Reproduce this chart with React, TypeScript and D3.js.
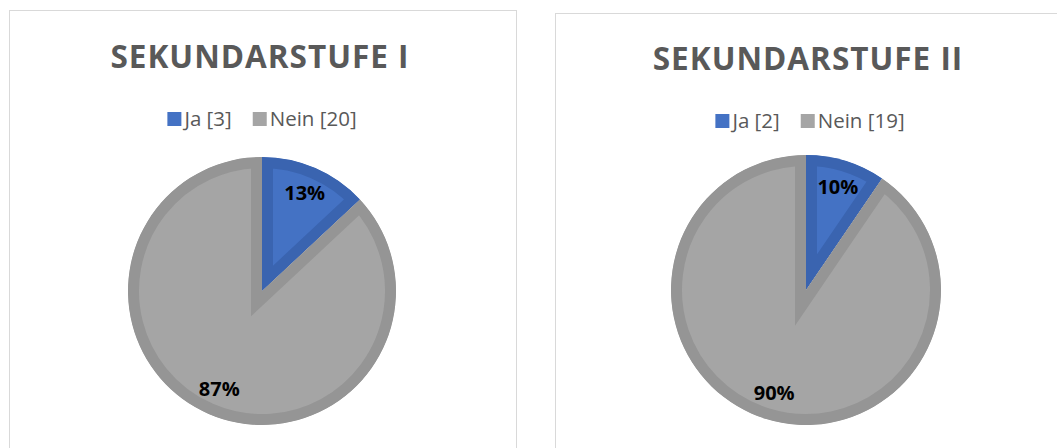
import React, { useEffect, useRef } from "react";
import * as d3 from "d3";

const chartTitles = ["SEKUNDARSTUFE I", "SEKUNDARSTUFE II"];
const categories = ["Ja", "Nein"];
const valuesSek1 = [3, 20];
const valuesSek2 = [2, 19];
const fillColors = ["#4472C4", "#A5A5A5"];
const edgeColors = ["#3A64B0", "#959595"];

const W = 1057;
const H = 448;
const FONT = "'Open Sans', 'Liberation Sans', sans-serif";

const panels = [
  { title: chartTitles[0], values: valuesSek1, box: { x: 9.5, y: 10.5, w: 507, h: 460 }, cx: 262, cy: 291, r: 134, titleY: 68, legendY: 126, titleCx: 260, legendCx: 262 },
  { title: chartTitles[1], values: valuesSek2, box: { x: 555.5, y: 13.5, w: 507, h: 460 }, cx: 806, cy: 290, r: 135, titleY: 70, legendY: 128, titleCx: 808, legendCx: 810 },
];

export default function App() {
  const ref = useRef<SVGSVGElement | null>(null);

  useEffect(() => {
    const svg = d3.select(ref.current);
    svg.selectAll("*").remove();
    const defs = svg.append("defs");

    panels.forEach((p, pi) => {
      const g = svg.append("g");
      g.append("rect")
        .attr("x", p.box.x).attr("y", p.box.y)
        .attr("width", p.box.w).attr("height", p.box.h)
        .attr("fill", "#fff").attr("stroke", "#D9D9D9").attr("stroke-width", 1);

      g.append("text")
        .attr("x", p.titleCx).attr("y", p.titleY)
        .attr("text-anchor", "middle")
        .attr("font-family", FONT).attr("font-weight", 700)
        .attr("font-size", 31.5).attr("letter-spacing", 1)
        .attr("fill", "#595959")
        .text(p.title);

      // legend
      const lg = g.append("g");
      let x = 0;
      const sq = 14;
      categories.forEach((c, i) => {
        lg.append("rect").attr("x", x).attr("y", p.legendY - sq).attr("width", sq).attr("height", sq).attr("fill", fillColors[i]);
        const t = lg.append("text")
          .attr("x", x + sq + 3).attr("y", p.legendY)
          .attr("font-family", FONT).attr("font-size", 20.5)
          .attr("fill", "#595959")
          .text(`${c} [${p.values[i]}]`);
        const tw = (t.node() as SVGTextElement).getComputedTextLength();
        x += sq + 3 + tw + 21;
      });
      const totalW = x - 21;
      lg.attr("transform", `translate(${p.legendCx - totalW / 2},0)`);

      // pie
      const pie = d3.pie<number>().sort(null).value((d) => d);
      const arcs = pie(p.values);
      const arc = d3.arc<d3.PieArcDatum<number>>().innerRadius(0).outerRadius(p.r);
      const labelArc = d3.arc<d3.PieArcDatum<number>>().innerRadius(p.r * 0.8).outerRadius(p.r * 0.8);
      const total = d3.sum(p.values);
      const pg = g.append("g").attr("transform", `translate(${p.cx},${p.cy})`);
      arcs.forEach((a, i) => {
        const id = `clip-${pi}-${i}`;
        defs.append("clipPath").attr("id", id)
          .append("path").attr("d", arc(a) as string)
          .attr("transform", `translate(${p.cx},${p.cy})`);
        pg.append("g").attr("clip-path", `url(#${id})`).attr("transform", `translate(${-p.cx},${-p.cy})`)
          .append("path")
          .attr("transform", `translate(${p.cx},${p.cy})`)
          .attr("d", arc(a) as string)
          .attr("fill", fillColors[i])
          .attr("stroke", edgeColors[i])
          .attr("stroke-width", 22)
          .attr("stroke-linejoin", "miter");
      });
      arcs.forEach((a) => {
        const [lx, ly] = labelArc.centroid(a);
        pg.append("text")
          .attr("x", lx).attr("y", ly + 7)
          .attr("text-anchor", "middle")
          .attr("font-family", FONT).attr("font-weight", 700)
          .attr("font-size", 20).attr("fill", "#000")
          .text(`${Math.round((a.data / total) * 100)}%`);
      });
    });
  }, []);

  return (
    <svg ref={ref} width={W} height={H} style={{ position: "absolute", left: 0, top: 0, background: "#fff" }} />
  );
}
